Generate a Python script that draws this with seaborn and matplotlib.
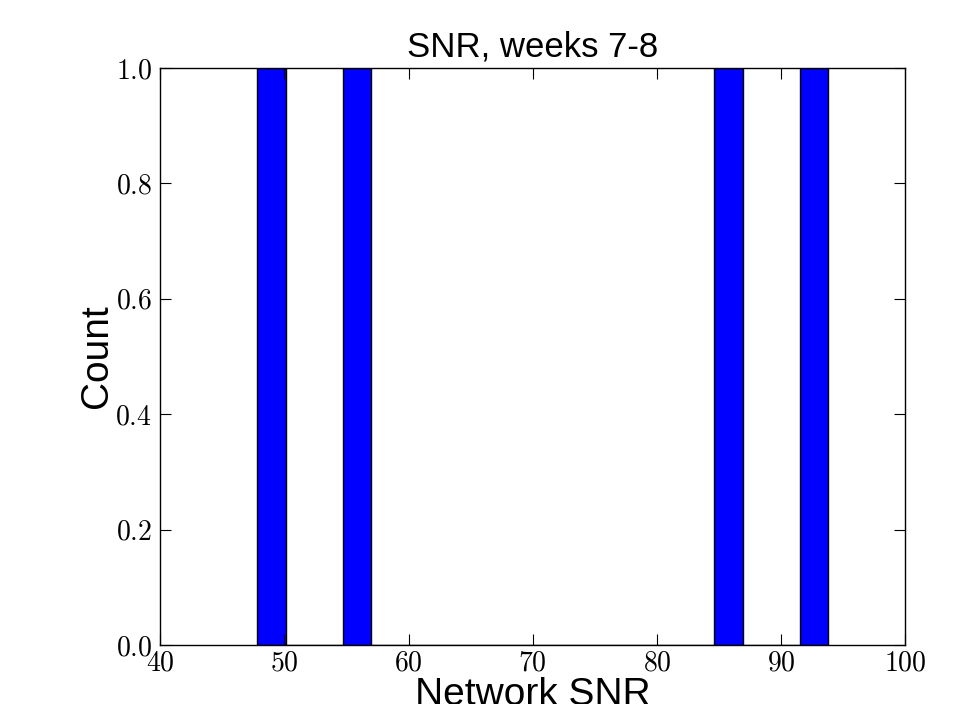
import matplotlib
matplotlib.use("Agg")
import matplotlib.pyplot as plt
import seaborn as sns
from matplotlib.ticker import FuncFormatter

# Data (network SNR values, weeks 7-8)
snr_values = [47.8, 55.5, 85.5, 93.8]
n_bins = 20
x_ticks = [40, 50, 60, 70, 80, 90, 100]
y_ticks = [0.0, 0.2, 0.4, 0.6, 0.8, 1.0]

plt.rcParams['mathtext.fontset'] = 'cm'
plt.rcParams['font.family'] = ['Liberation Sans', 'DejaVu Sans']

fig = plt.figure(figsize=(9.54, 7.04), dpi=100)
ax = fig.add_axes([0.168, 0.0838, 0.781, 0.8196])

sns.histplot(x=snr_values, bins=n_bins, color='blue', edgecolor='black',
             linewidth=1.0, alpha=1.0, ax=ax, stat='count')

ax.set_xlim(40, 100)
ax.set_ylim(0, 1)
ax.set_xticks(x_ticks)
ax.set_yticks(y_ticks)
ax.xaxis.set_major_formatter(FuncFormatter(lambda v, p: r'$%d$' % v))
ax.yaxis.set_major_formatter(FuncFormatter(lambda v, p: r'$%.1f$' % v))
ax.tick_params(direction='in', top=True, right=True, length=8, width=0.8,
               labelsize=20)
ax.tick_params(axis='x', pad=4)
ax.tick_params(axis='y', pad=6)
for s in ax.spines.values():
    s.set_color('black')
    s.set_linewidth(1.0)

ax.set_title('SNR, weeks 7-8', fontsize=25, pad=8)
ax.set_xlabel('Network SNR', fontsize=28, labelpad=0)
ax.set_ylabel('Count', fontsize=28, labelpad=0)

fig.savefig('out.png', dpi=100)
